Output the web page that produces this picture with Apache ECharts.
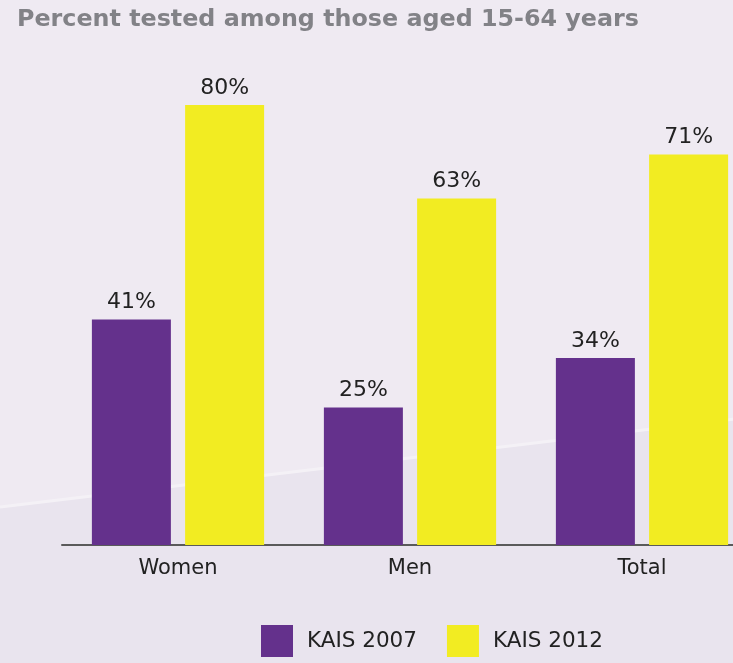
<!DOCTYPE html>
<html>
<head>
<meta charset="utf-8">
<script src="https://cdn.jsdelivr.net/npm/echarts@6/dist/echarts.min.js"></script>
<style>
  html, body { margin: 0; padding: 0; background: #efeaf2; overflow: hidden; }
  #chart { width: 760px; height: 663px; }
</style>
</head>
<body>
<div id="chart"></div>
<script>
// Share of people aged 15-64 ever tested, by survey round
const categories = ['Women', 'Men', 'Total'];
const kais2007 = [41, 25, 34];
const kais2012 = [80, 63, 71];
const seriesNames = ['KAIS 2007', 'KAIS 2012'];
const titleText = 'Percent tested among those aged 15-64 years';

const PURPLE = '#64318c';
const YELLOW = '#f2ec22';
const FONT = 'DejaVu Sans';

const chart = echarts.init(document.getElementById('chart'));

const labelStyle = {
  show: true,
  position: 'top',
  distance: 6,
  formatter: '{c}%',
  color: '#222222',
  fontFamily: FONT,
  fontSize: 22
};

chart.setOption({
  backgroundColor: '#efeaf2',
  animation: false,
  title: {
    text: titleText,
    left: 12,
    top: 3,
    textStyle: {
      color: '#828287',
      fontFamily: FONT,
      fontWeight: 'bold',
      fontSize: 23.8
    }
  },
  graphic: [
    {
      type: 'polygon',
      z: -10,
      silent: true,
      shape: { points: [[0, 508], [760, 417], [760, 663], [0, 663]] },
      style: { fill: '#e9e4ee' }
    },
    {
      type: 'polyline',
      z: -9,
      silent: true,
      shape: { points: [[0, 507], [760, 416]] },
      style: { stroke: '#f4f1f6', lineWidth: 3 }
    }
  ],
  legend: {
    bottom: 1,
    left: 256,
    itemWidth: 32,
    itemHeight: 32,
    itemGap: 30,
    icon: 'rect',
    textStyle: { color: '#222222', fontFamily: FONT, fontSize: 21.5, padding: [0, 0, 0, 9] },
    data: seriesNames
  },
  grid: { left: 62, right: 2, top: 105, bottom: 118, containLabel: false },
  xAxis: {
    type: 'category',
    data: categories,
    axisLine: { show: true, lineStyle: { color: '#5a5a5a', width: 2 } },
    axisTick: { show: false },
    axisLabel: { color: '#222222', fontFamily: FONT, fontSize: 21, margin: 13 }
  },
  yAxis: {
    type: 'value',
    min: 0,
    max: 80,
    show: false,
    splitLine: { show: false }
  },
  series: [
    {
      name: seriesNames[0],
      type: 'bar',
      data: kais2007,
      barWidth: 79,
      barGap: '18%',
      itemStyle: { color: PURPLE },
      label: labelStyle
    },
    {
      name: seriesNames[1],
      type: 'bar',
      data: kais2012,
      barWidth: 79,
      itemStyle: { color: YELLOW },
      label: labelStyle
    }
  ]
});
</script>
</body>
</html>
